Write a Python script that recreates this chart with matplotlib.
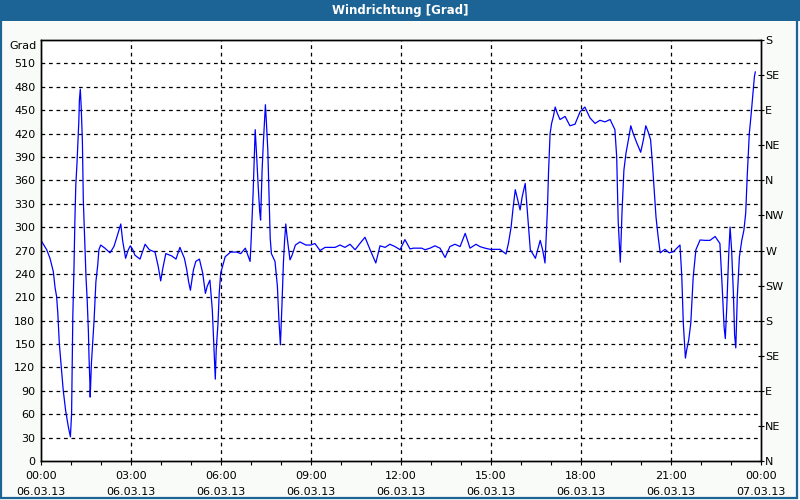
import matplotlib
matplotlib.use("Agg")
import matplotlib.pyplot as plt
from matplotlib.patches import Rectangle

# --- data (hours after 06.03.13 00:00, wind direction in degrees) ---
hours = [0.0, 0.19, 0.30, 0.41, 0.47, 0.52, 0.56, 0.61, 0.69, 0.74, 0.82, 0.91, 0.98,
         1.02, 1.06, 1.10, 1.13, 1.16, 1.20, 1.23, 1.26, 1.28, 1.31, 1.34, 1.38, 1.40,
         1.41, 1.50, 1.54, 1.58, 1.60, 1.63, 1.64, 1.68, 1.73, 1.77, 1.83, 1.89, 1.93,
         1.99, 2.13, 2.30, 2.43, 2.52, 2.66, 2.72, 2.82, 2.91, 2.98, 3.06, 3.13, 3.30,
         3.47, 3.61, 3.80, 3.91, 3.99, 4.06, 4.16, 4.36, 4.50, 4.63, 4.78, 4.86, 4.92,
         4.98, 5.08, 5.16, 5.28, 5.39, 5.48, 5.54, 5.63, 5.71, 5.77, 5.81, 5.84, 5.90,
         5.94, 5.99, 6.06, 6.14, 6.32, 6.52, 6.66, 6.81, 6.97, 7.00, 7.03, 7.07, 7.11,
         7.14, 7.19, 7.24, 7.29, 7.32, 7.37, 7.41, 7.46, 7.48, 7.51, 7.56, 7.61, 7.64,
         7.68, 7.80, 7.88, 7.93, 7.98, 8.03, 8.08, 8.12, 8.16, 8.19, 8.23, 8.30, 8.37,
         8.48, 8.63, 8.83, 9.00, 9.13, 9.30, 9.47, 9.80, 9.97, 10.13, 10.30, 10.47,
         10.63, 10.80, 10.97, 11.16, 11.30, 11.47, 11.63, 11.80, 11.97, 12.13, 12.30,
         12.41, 12.69, 12.80, 12.97, 13.13, 13.30, 13.47, 13.63, 13.80, 13.97, 14.14,
         14.30, 14.50, 14.63, 14.80, 14.97, 15.30, 15.50, 15.58, 15.67, 15.74, 15.81,
         15.89, 15.97, 16.04, 16.14, 16.20, 16.26, 16.31, 16.39, 16.48, 16.57, 16.64,
         16.72, 16.80, 16.83, 16.88, 16.92, 16.97, 17.02, 17.08, 17.14, 17.21, 17.30,
         17.47, 17.63, 17.80, 17.97, 18.13, 18.30, 18.47, 18.63, 18.80, 18.97, 19.13,
         19.19, 19.24, 19.31, 19.37, 19.43, 19.50, 19.58, 19.66, 19.74, 19.86, 19.99,
         20.08, 20.16, 20.24, 20.32, 20.38, 20.44, 20.50, 20.57, 20.64, 20.80, 20.94,
         21.08, 21.30, 21.36, 21.41, 21.48, 21.52, 21.59, 21.66, 21.74, 21.83, 21.97,
         22.13, 22.30, 22.47, 22.63, 22.70, 22.77, 22.81, 22.86, 22.92, 22.97, 23.02,
         23.08, 23.12, 23.16, 23.21, 23.28, 23.36, 23.43, 23.49, 23.54, 23.61, 23.67,
         23.72, 23.78, 23.81]
direction = [283, 271, 260, 243, 222, 211, 190, 151, 113, 91, 65, 44, 31,
             61, 185, 249, 309, 354, 382, 408, 435, 463, 477, 454, 410, 365,
             335, 236, 206, 166, 134, 100, 82, 125, 155, 181, 230, 251, 271,
             277, 273, 267, 275, 286, 304, 283, 260, 271, 276, 271, 264, 259,
             278, 271, 268, 249, 231, 247, 266, 263, 259, 274, 260, 245, 230,
             219, 245, 256, 259, 241, 215, 224, 232, 194, 142, 105, 142, 177,
             215, 241, 251, 262, 268, 268, 266, 273, 256, 279, 307, 343, 390,
             425, 390, 352, 320, 309, 373, 407, 442, 457, 437, 399, 326, 286,
             266, 256, 224, 181, 149, 198, 254, 283, 304, 292, 279, 258, 264,
             277, 281, 277, 277, 279, 270, 274, 274, 277, 274, 278, 271,
             279, 287, 271, 254, 276, 274, 278, 275, 271, 284, 272,
             273, 273, 271, 273, 276, 273, 261, 275, 278, 275, 292,
             273, 278, 275, 273, 271.5, 271.5, 265.5, 279, 300, 326, 348,
             335, 322, 339, 356, 326, 296, 271, 266, 260, 273, 283,
             271, 254, 279, 322, 373, 420, 433, 442, 454, 446, 438,
             442, 430, 432, 448, 454, 440, 433, 437, 435, 438, 425,
             390, 307, 255, 322, 373, 395, 412, 430, 420, 408, 396,
             412, 430, 422, 412, 382, 348, 313, 288, 267, 271.5, 267,
             268.5, 277, 236, 177, 132, 142, 155, 177, 236, 271, 283.5,
             283, 283, 288, 279, 228, 172, 157, 198, 262, 300, 271,
             215, 162, 145, 211, 262, 283, 296, 318, 365, 420, 444,
             467, 493, 499]

x_tick_hours = [0, 3, 6, 9, 12, 15, 18, 21, 24]
x_tick_labels = ["00:00\n06.03.13", "03:00\n06.03.13", "06:00\n06.03.13",
                 "09:00\n06.03.13", "12:00\n06.03.13", "15:00\n06.03.13",
                 "18:00\n06.03.13", "21:00\n06.03.13", "00:00\n07.03.13"]
y_ticks = list(range(0, 540, 30))
compass_degrees = list(range(0, 541, 45))
compass_labels = ["N", "NE", "E", "SE", "S", "SW", "W", "NW",
                  "N", "NE", "E", "SE", "S"]

title = "Windrichtung [Grad]"

# --- figure ---
bg = "#f9fbf9"
bar = "#1d6496"
fig = plt.figure(figsize=(8, 5), dpi=100, facecolor=bg)

# title bar and border
fig.patches.append(Rectangle((0, 0.958), 1, 0.042, transform=fig.transFigure,
                             facecolor=bar, edgecolor="none", zorder=0))
fig.patches.append(Rectangle((0.0015, 0.004), 0.9945, 0.96, transform=fig.transFigure,
                             facecolor="none", edgecolor=bar, linewidth=1.6, zorder=0))
fig.text(0.5, 0.979, title, color="white", fontsize=8.5, fontweight="bold",
         ha="center", va="center")

ax = fig.add_axes([41 / 800, 39 / 500, 720 / 800, 421 / 500])
ax.set_facecolor("white")
ax.plot(hours, direction, color="#0000ff", linewidth=0.9, zorder=3)

ax.set_xlim(0, 24)
ax.set_ylim(0, 540)

for v in y_ticks[1:]:
    ax.axhline(v, color="black", linewidth=0.9, linestyle=(0, (3, 3)), zorder=1)
for h in x_tick_hours[1:-1]:
    ax.axvline(h, color="black", linewidth=0.9, linestyle=(0, (3, 3)), zorder=1)

ax.set_xticks(x_tick_hours)
ax.set_xticklabels(x_tick_labels, fontsize=8, linespacing=1.75)
ax.set_xticks(range(0, 25), minor=True)
ax.tick_params(axis="x", which="both", direction="out", length=3, width=0.8,
               pad=4, colors="black")

ax.set_yticks(y_ticks)
ax.set_yticklabels([str(v) for v in y_ticks], fontsize=8)
ax.tick_params(axis="y", which="both", length=0, pad=4)

for s in ax.spines.values():
    s.set_color("black")
    s.set_linewidth(1.0)

ax.text(-0.006, 0.985, "Grad", transform=ax.transAxes, ha="right", va="center",
        fontsize=8)

ax2 = ax.twinx()
ax2.set_ylim(0, 540)
ax2.set_yticks(compass_degrees)
ax2.set_yticklabels(compass_labels, fontsize=8)
ax2.tick_params(axis="y", direction="inout", length=5, width=0.8, pad=0.5)
for s in ax2.spines.values():
    s.set_color("black")
    s.set_linewidth(1.0)

fig.savefig("out.png", dpi=100, facecolor=bg)
